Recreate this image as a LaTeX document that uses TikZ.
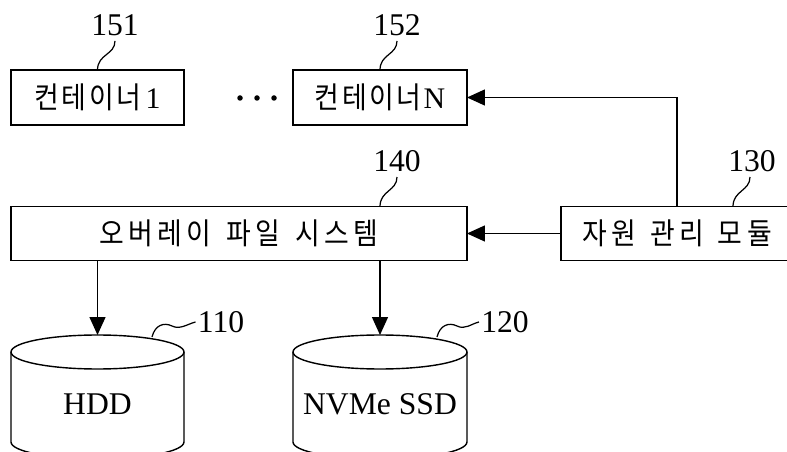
\documentclass[tikz,border=0pt]{standalone}
\usepackage{fontspec}
\setmainfont{Liberation Serif}
\newfontfamily\kr[FakeStretch=0.9,LetterSpace=9]{Noto Sans CJK KR}
\usetikzlibrary{arrows.meta}

\tikzset{
  box/.style={draw, line width=0.8pt, inner sep=0pt, outer sep=0pt,
    minimum height=1.08cm, font=\fontsize{17}{17}\selectfont},
  arr/.style={line width=0.8pt, -{Triangle[length=0.36cm,width=0.32cm]}},
  tag/.style={inner sep=0pt, font=\fontsize{18}{18}\selectfont},
  lead/.style={line width=0.7pt},
  disk/.style={line width=0.8pt},
}

\begin{document}
\begin{tikzpicture}[x=0.02cm, y=-0.02cm]
      \clip (0,0) rectangle (787,452);

      % containers
      \node[box, minimum width=3.46cm, minimum height=1.1cm] (c1) at (97.5,97.5) {{\kr 컨테이너}\hspace{0.08cm}1};
      \node[box, minimum width=3.48cm, minimum height=1.1cm] (cN) at (380,97.5) {{\kr 컨테이너}\hspace{0.04cm}N};
      \foreach \x in {240,257,274}
        \fill (\x,98) circle (0.055cm);

      \node[box, minimum width=9.12cm] (ofs) at (239,233.5) {\kr\addfontfeature{LetterSpace=15}오버레이\hspace{0.3cm}파일\hspace{0.3cm}시스템};
      \node[box, minimum width=4.64cm] (rm) at (677,233.5) {\kr\addfontfeature{LetterSpace=15}자원\hspace{0.28cm}관리\hspace{0.28cm}모듈};

      % disks
      \draw[disk] (97.5,352) ellipse (1.73cm and 0.34cm);
      \draw[disk] (11,352) -- (11,442) arc[start angle=180, end angle=360, x radius=1.73cm, y radius=0.34cm] -- (184,352);
      \coordinate (hddtop) at (97.5,335);
      \coordinate (hddrim) at (152,337);
      \node[font=\fontsize{18}{18}\selectfont] (hdd) at (97.5,404) {HDD};

      \draw[disk] (380,352) ellipse (1.74cm and 0.34cm);
      \draw[disk] (293,352) -- (293,442) arc[start angle=180, end angle=360, x radius=1.74cm, y radius=0.34cm] -- (467,352);
      \coordinate (nvtop) at (380,335);
      \coordinate (nvrim) at (437,337);
      \node[font=\fontsize{18}{18}\selectfont] (nvme) at (380,404) {NVMe SSD};

      % arrows
      \draw[arr] (rm.north) |- (cN.east);
      \draw[arr] (rm.west) -- (ofs.east);
      \draw[arr] (ofs.south -| hddtop) -- (hddtop);
      \draw[arr] (ofs.south -| nvtop) -- (nvtop);

      % reference numbers
      \node[tag] (t151) at (115,25) {151};
      \node[tag] (t152) at (397,25) {152};
      \node[tag] (t140) at (397,161) {140};
      \node[tag] (t130) at (752,161) {130};
      \node[tag] (t110) at (221,322) {110};
      \node[tag] (t120) at (505,322) {120};

      \draw[lead] (c1.north) .. controls +(0,-16) and +(0,14) .. ([yshift=-0.1cm]t151.south);
      \draw[lead] (cN.north) .. controls +(0,-16) and +(0,14) .. ([yshift=-0.1cm]t152.south);
      \draw[lead] (ofs.north -| nvtop) .. controls +(0,-16) and +(0,14) .. ([yshift=-0.1cm]t140.south);
      \draw[lead] ([xshift=1.12cm]rm.north) .. controls +(0,-16) and +(0,14) .. ([xshift=-0.04cm,yshift=-0.1cm]t130.south);
      \draw[lead] (hddrim) .. controls +(3,-12) and +(-8,-4) .. (172,326) .. controls +(8,4) and +(-8,2) .. ([xshift=-0.04cm]t110.west);
      \draw[lead] (nvrim) .. controls +(3,-12) and +(-8,-4) .. (457,326) .. controls +(8,4) and +(-8,2) .. ([xshift=-0.04cm]t120.west);
\end{tikzpicture}
\end{document}
